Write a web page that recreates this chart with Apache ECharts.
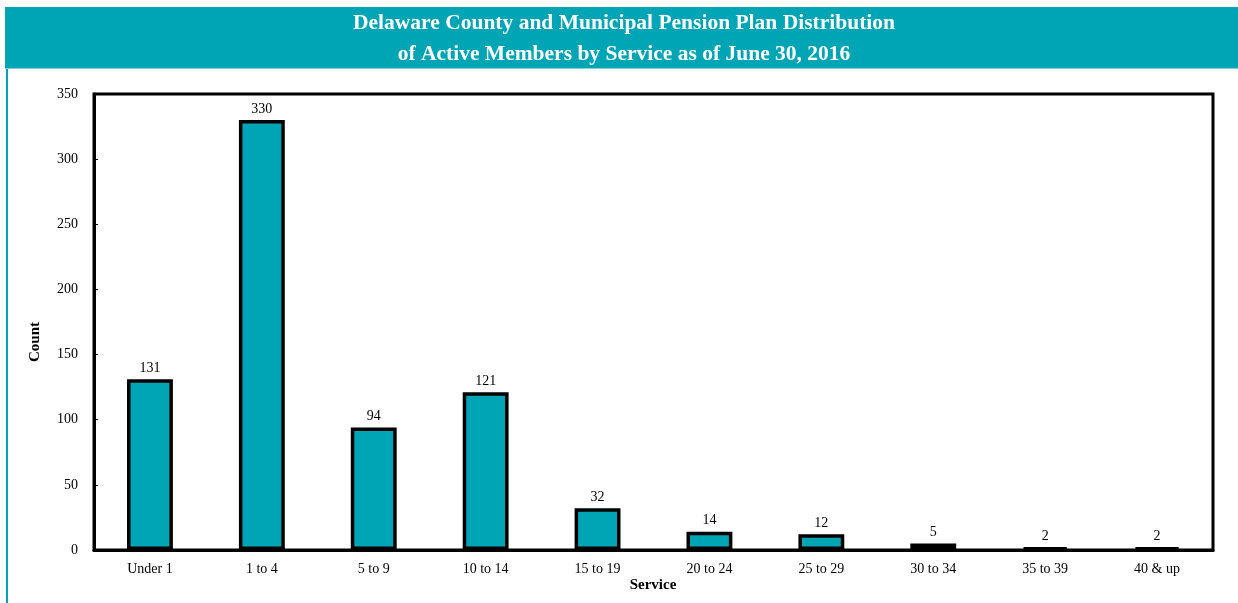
<!DOCTYPE html>
<html><head><meta charset="utf-8">
<script src="https://cdn.jsdelivr.net/npm/echarts@6/dist/echarts.min.js"></script>
<style>html,body{margin:0;padding:0;background:#fff}#c{width:1238px;height:603px}</style>
</head><body><div id="c"></div>
<script>
const categories = ['Under 1','1 to 4','5 to 9','10 to 14','15 to 19','20 to 24','25 to 29','30 to 34','35 to 39','40 & up'];
const counts = [131,330,94,121,32,14,12,5,2,2];
const yTicks = {min:0, max:350, interval:50};
const teal = '#00A5B5';
const font = '"Liberation Serif", "Times New Roman", serif';
const chart = echarts.init(document.getElementById('c'));
chart.setOption({
  animation:false,
  graphic:[
    {type:'rect', shape:{x:5,y:7,width:1233,height:61}, style:{fill:teal}, z:-1},
    {type:'rect', shape:{x:6,y:68,width:2,height:535}, style:{fill:teal}, z:-1},
    {type:'rect', shape:{x:5,y:68,width:1233,height:1}, style:{fill:'#7fd0d8'}, z:-1},
    {type:'text', x:624, y:23, style:{text:'Delaware County and Municipal Pension Plan Distribution', fill:'#fff', font:'bold 21.5px '+font, align:'center', verticalAlign:'middle'}},
    {type:'text', x:624, y:54, style:{text:'of Active Members by Service as of June 30, 2016', fill:'#fff', font:'bold 21.5px '+font, align:'center', verticalAlign:'middle'}},
    {type:'text', x:35, y:342, rotation:Math.PI/2, style:{text:'Count', fill:'#000', font:'bold 15px '+font, align:'center', verticalAlign:'middle'}},
    {type:'text', x:653, y:585, style:{text:'Service', fill:'#000', font:'bold 15px '+font, align:'center', verticalAlign:'middle'}}
  ],
  grid:{left:94, right:25, top:94, bottom:53, show:true, borderColor:'#000', borderWidth:3, backgroundColor:'transparent'},
  xAxis:{type:'category', data:categories,
    axisLine:{lineStyle:{color:'#000', width:3}}, axisTick:{show:false},
    axisLabel:{color:'#000', fontFamily:font, fontSize:14, margin:12}},
  yAxis:{type:'value', min:yTicks.min, max:yTicks.max, interval:yTicks.interval,
    splitLine:{show:false}, axisLine:{show:true, lineStyle:{color:'#000', width:3}},
    axisTick:{show:true, inside:true, length:4, lineStyle:{color:'#000', width:1}},
    axisLabel:{color:'#000', fontFamily:font, fontSize:14, margin:16}},
  series:[{type:'bar', data:counts, barWidth:'41%',
    itemStyle:{color:teal, borderColor:'#000', borderWidth:3.5},
    label:{show:true, position:'top', color:'#000', fontFamily:font, fontSize:14, distance:4}}]
});
</script></body></html>
